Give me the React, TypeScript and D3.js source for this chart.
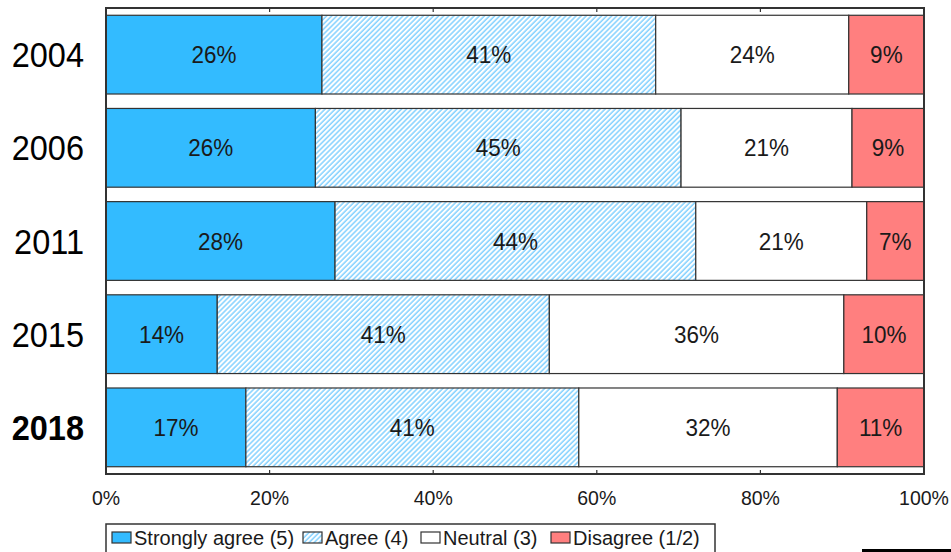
import React from "react";
import * as d3 from "d3";

const years = ["2004", "2006", "2011", "2015", "2018"];
const boldYears = ["2018"];
const categories = ["Strongly agree (5)", "Agree (4)", "Neutral (3)", "Disagree (1/2)"];
const stronglyAgree = [26.4, 25.6, 28.0, 13.6, 17.1];
const agree = [40.8, 44.7, 44.1, 40.6, 40.7];
const neutral = [23.6, 20.9, 20.9, 36.0, 31.6];
const disagree = [9.2, 8.8, 7.0, 9.8, 10.6];
const xTicks = [0, 20, 40, 60, 80, 100];

const W = 951;
const H = 552;
const M = { left: 106, right: 924, top: 8, bottom: 474 };
const BLUE = "#33bbff";
const RED = "#ff7f7f";
const STROKE = "#333";
const FONT = "'Liberation Sans', Arial, sans-serif";

export default function App() {
  const x = d3.scaleLinear().domain([0, 100]).range([M.left, M.right]);
  const y = d3.scaleBand().domain(years).range([M.top, M.bottom]).paddingInner(0.155).paddingOuter(0.078);

  const table = years.map((yr, i) => ({
    year: yr,
    values: [stronglyAgree[i], agree[i], neutral[i], disagree[i]],
  }));
  const stack = d3.stack<any>().keys([0, 1, 2, 3] as any).value((d: any, k: any) => d.values[k]);
  const series = stack(table);
  const fills = [BLUE, "url(#hatch)", "#ffffff", RED];

  const legendX = [112, 303, 421, 551];

  return (
    <svg width={W} height={H} style={{ position: "absolute", left: 0, top: 0, background: "#fff" }} fontFamily={FONT}>
      <defs>
        <pattern id="hatch" patternUnits="userSpaceOnUse" width={3.6} height={10} patternTransform="rotate(45)">
          <rect width={3.6} height={10} fill="#fff" />
          <line x1={1} y1={0} x2={1} y2={10} stroke="#70caff" strokeWidth={1.3} />
        </pattern>
      </defs>

      {/* bars */}
      {series.map((s: any, si: number) =>
        s.map((d: any, i: number) => {
          const x0 = x(d[0]);
          const x1 = x(d[1]);
          const yy = y(years[i])!;
          const bh = y.bandwidth();
          const v = d[1] - d[0];
          return (
            <g key={`${si}-${i}`}>
              <rect x={x0} y={yy} width={x1 - x0} height={bh} fill={fills[si]} stroke={STROKE} strokeWidth={1.2} />
              <text
                transform={`translate(${(x0 + x1) / 2},${yy + bh / 2 + 8.5}) scale(1,1.1)`}
                textAnchor="middle"
                fontSize={22.5}
                fill="#1a1a1a"
              >
                {Math.round(v)}%
              </text>
            </g>
          );
        })
      )}

      {/* year labels */}
      {years.map((yr) => (
        <text
          key={yr}
          transform={`translate(84,${y(yr)! + y.bandwidth() / 2 + 12.5}) scale(1,1.1)`}
          textAnchor="end"
          fontSize={32.5}
          fontWeight={boldYears.includes(yr) ? "bold" : "normal"}
          fill="#000"
        >
          {yr}
        </text>
      ))}

      {/* frame */}
      <rect x={M.left} y={M.top} width={M.right - M.left} height={M.bottom - M.top} fill="none" stroke={STROKE} strokeWidth={2} />
      {xTicks.map((t) => (
        <g key={t}>
          <line x1={x(t)} x2={x(t)} y1={M.top} y2={M.top + 4} stroke={STROKE} strokeWidth={1.2} />
          <line x1={x(t)} x2={x(t)} y1={M.bottom} y2={M.bottom - 4} stroke={STROKE} strokeWidth={1.2} />
          <text x={x(t)} y={505} textAnchor="middle" fontSize={19.5} fill="#1a1a1a">
            {t}%
          </text>
        </g>
      ))}

      {/* legend */}
      <rect x={106} y={524} width={609} height={40} fill="#fff" stroke={STROKE} strokeWidth={1.5} />
      {categories.map((c, i) => (
        <g key={c}>
          <rect x={legendX[i]} y={532} width={19} height={11} fill={fills[i]} stroke={STROKE} strokeWidth={1.2} />
          <text x={legendX[i] + 22} y={545} fontSize={20} fill="#1a1a1a">
            {c}
          </text>
        </g>
      ))}

      <rect x={862} y={549} width={89} height={3} fill="#000" />
    </svg>
  );
}
